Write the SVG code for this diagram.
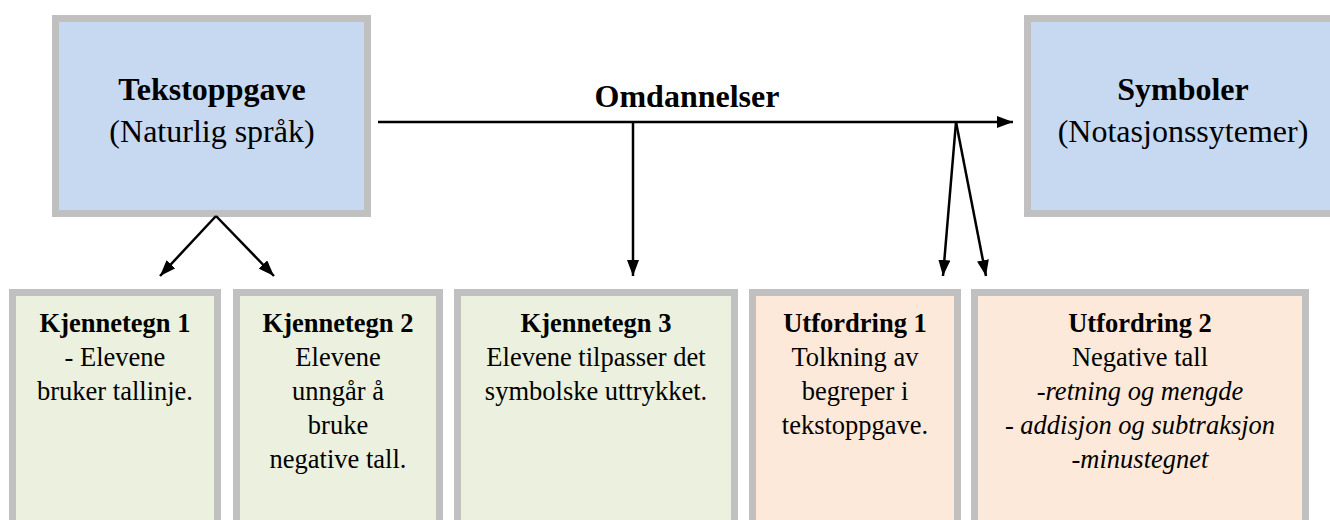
<svg xmlns="http://www.w3.org/2000/svg" width="1330" height="520" viewBox="0 0 1330 520">
  <defs>
    <marker id="head" viewBox="0 0 16 12" markerWidth="16" markerHeight="12" refX="16" refY="6" orient="auto" markerUnits="userSpaceOnUse">
      <path d="M0,0 L16,6 L0,12 z" fill="#000"/>
    </marker>
    <style>
      .box { stroke: #c0c0c0; stroke-width: 7; }
      .blue { fill: #c6d9f0; }
      .green { fill: #ebf1de; }
      .peach { fill: #fde9d9; }
      .t { font-family: 'Liberation Serif', 'Times New Roman', 'DejaVu Serif', serif; fill: #000; text-anchor: middle; }
      .big { font-size: 32px; }
      .small { font-size: 26.5px; }
      .b { font-weight: bold; }
      .i { font-style: italic; }
      .arrow { stroke: #000; stroke-width: 2.5; fill: none; marker-end: url(#head); }
    </style>
  </defs>
  <rect width="1330" height="520" fill="#fff"/>

  <g font-family="Liberation Serif, Times New Roman, DejaVu Serif, serif">
    <!-- top row -->
    <g id="tekstoppgave">
      <rect class="box blue" x="55.5" y="18.5" width="312" height="195"/>
      <text class="t big b" x="212" y="100">Tekstoppgave</text>
      <text class="t big" x="212" y="142">(Naturlig språk)</text>
    </g>
    <g id="symboler">
      <rect class="box blue" x="1027.5" y="18.5" width="312" height="195"/>
      <text class="t big b" x="1183" y="100">Symboler</text>
      <text class="t big" x="1183" y="142">(Notasjonssytemer)</text>
    </g>
    <g id="omdannelser-label">
      <text class="t big b" x="687" y="107">Omdannelser</text>
    </g>

    <!-- bottom row -->
    <g id="kjennetegn1">
      <rect class="box green" x="12.5" y="292.5" width="205" height="240"/>
      <text class="t small b" x="115" y="332">Kjennetegn 1</text>
      <text class="t small" x="115" y="366">- Elevene</text>
      <text class="t small" x="115" y="400">bruker tallinje.</text>
    </g>
    <g id="kjennetegn2">
      <rect class="box green" x="236.5" y="292.5" width="203" height="240"/>
      <text class="t small b" x="338" y="332">Kjennetegn 2</text>
      <text class="t small" x="338" y="366">Elevene</text>
      <text class="t small" x="338" y="400">unngår å</text>
      <text class="t small" x="338" y="434">bruke</text>
      <text class="t small" x="338" y="468">negative tall.</text>
    </g>
    <g id="kjennetegn3">
      <rect class="box green" x="457.5" y="292.5" width="277" height="240"/>
      <text class="t small b" x="596" y="332">Kjennetegn 3</text>
      <text class="t small" x="596" y="366">Elevene tilpasser det</text>
      <text class="t small" x="596" y="400">symbolske uttrykket.</text>
    </g>
    <g id="utfordring1">
      <rect class="box peach" x="752.5" y="292.5" width="205" height="240"/>
      <text class="t small b" x="855" y="332">Utfordring 1</text>
      <text class="t small" x="855" y="366">Tolkning av</text>
      <text class="t small" x="855" y="400">begreper i</text>
      <text class="t small" x="855" y="434">tekstoppgave.</text>
    </g>
    <g id="utfordring2">
      <rect class="box peach" x="974.5" y="292.5" width="331" height="240"/>
      <text class="t small b" x="1140" y="332">Utfordring 2</text>
      <text class="t small" x="1140" y="366">Negative tall</text>
      <text class="t small i" x="1140" y="400">-retning og mengde</text>
      <text class="t small" x="1140" y="434">- <tspan class="i">addisjon og subtraksjon</tspan></text>
      <text class="t small i" x="1140" y="468">-minustegnet</text>
    </g>
  </g>

  <!-- connectors -->
  <g id="connectors">
    <line class="arrow" x1="378" y1="122" x2="1013" y2="122"/>
    <line class="arrow" x1="633" y1="122" x2="633" y2="276"/>
    <line class="arrow" x1="956" y1="122" x2="943" y2="276"/>
    <line class="arrow" x1="956" y1="122" x2="986" y2="276"/>
    <line class="arrow" x1="216" y1="216" x2="160" y2="276"/>
    <line class="arrow" x1="216" y1="216" x2="274" y2="276"/>
  </g>
</svg>
